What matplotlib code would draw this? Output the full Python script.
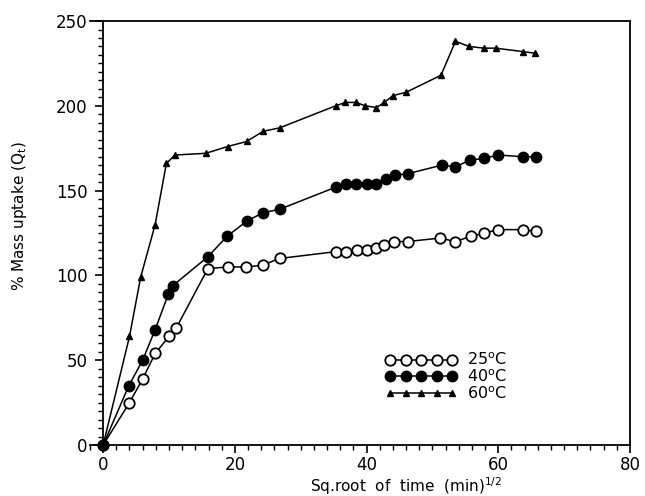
import numpy as np
import matplotlib.pyplot as plt
from matplotlib.ticker import MultipleLocator

# sqrt(time) values (min^1/2) and % mass uptake for each temperature
x_25 = [0, 4.0, 6.0, 7.9, 10.0, 11.1, 15.9, 18.9, 21.7, 24.2, 26.8, 35.3, 36.9,
        38.5, 40.0, 41.5, 42.7, 44.2, 46.3, 51.1, 53.5, 55.8, 57.9, 60.0, 63.7, 65.8]
y_25 = [0, 25, 39, 54, 64, 69, 104, 105, 105, 106, 110, 114, 114,
        115, 115, 116, 118, 120, 120, 122, 120, 123, 125, 127, 127, 126]

x_40 = [0, 3.9, 6.0, 7.9, 9.9, 10.6, 15.9, 18.8, 21.8, 24.3, 26.8, 35.3, 36.9,
        38.4, 40.0, 41.5, 42.9, 44.3, 46.3, 51.4, 53.5, 55.7, 57.8, 60.0, 63.7, 65.7]
y_40 = [0, 35, 50, 68, 89, 94, 111, 123, 132, 137, 139, 152, 154,
        154, 154, 154, 157, 159, 160, 165, 164, 168, 169, 171, 170, 170]

x_60 = [0, 4.0, 5.7, 7.9, 9.6, 10.9, 15.6, 18.9, 21.8, 24.3, 26.8, 35.3, 36.8,
        38.4, 39.8, 41.5, 42.7, 44.0, 46.0, 51.3, 53.5, 55.6, 57.8, 59.6, 63.7, 65.6]
y_60 = [0, 64, 99, 130, 166, 171, 172, 176, 179, 185, 187, 200, 202,
        202, 200, 199, 202, 206, 208, 218, 238, 235, 234, 234, 232, 231]

labels = ['25$^{\\mathrm{o}}$C', '40$^{\\mathrm{o}}$C', '60$^{\\mathrm{o}}$C']

plt.rcParams['font.family'] = 'DejaVu Sans'

fig = plt.figure(figsize=(6.45, 4.96), dpi=100)
ax = fig.add_axes([0.1395, 0.1028, 0.8372, 0.8548])

ax.plot(x_25, y_25, color='black', lw=1.1, marker='o', ms=7.5,
        mfc='white', mec='black', mew=1.3, label=labels[0], clip_on=False)
ax.plot(x_40, y_40, color='black', lw=1.1, marker='o', ms=7.5,
        mfc='black', mec='black', label=labels[1], clip_on=False)
ax.plot(x_60, y_60, color='black', lw=1.1, marker='^', ms=5,
        mfc='black', mec='black', label=labels[2], clip_on=False)

ax.set_xlim(-2, 80)
ax.set_ylim(0, 250)
ax.spines['left'].set_position(('data', 0))
for s in ax.spines.values():
    s.set_linewidth(1.3)

ax.xaxis.set_major_locator(MultipleLocator(20))
ax.xaxis.set_minor_locator(MultipleLocator(2))
ax.yaxis.set_major_locator(MultipleLocator(50))
ax.yaxis.set_minor_locator(MultipleLocator(5))
ax.tick_params(which='major', direction='out', length=6, width=1.2, labelsize=12)
ax.tick_params(axis='y', which='major', pad=5)
ax.tick_params(axis='x', which='major', pad=2)
ax.tick_params(which='minor', direction='out', length=3.5, width=1.0)

ax.set_xlabel('Sq.root  of  time  (min)$^{1/2}$', fontsize=11)
ax.xaxis.set_label_coords(0.585, -0.072)
ax.set_ylabel('% Mass uptake (Q$_\\mathrm{t}$)', fontsize=11)
ax.yaxis.set_label_coords(-0.112, 0.54)

ax.legend(loc='upper left', bbox_to_anchor=(0.535, 0.235), frameon=False,
          numpoints=5, handlelength=4.5, fontsize=11.5, labelspacing=0.0,
          handletextpad=0.6, borderaxespad=0)

fig.savefig('out.png', dpi=100)
